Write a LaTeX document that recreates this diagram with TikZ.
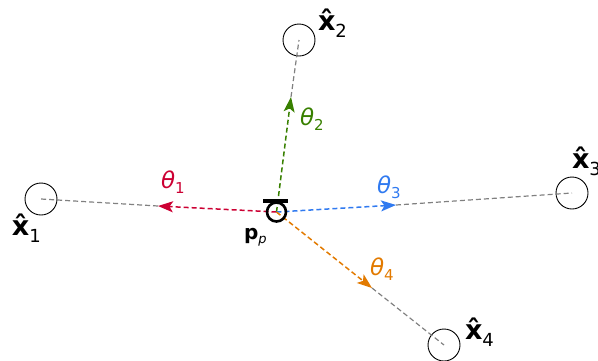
\documentclass[tikz,border=0pt]{standalone}
\usepackage{fontspec}
\setmainfont{DejaVu Sans}
\usetikzlibrary{arrows.meta}
\definecolor{cred}{RGB}{204,0,51}
\definecolor{cgreen}{RGB}{56,128,0}
\definecolor{cblue}{RGB}{48,122,240}
\definecolor{corange}{RGB}{226,122,0}
\tikzset{
  pt/.style={circle,draw=black,line width=0.9pt,minimum size=32pt,inner sep=0pt},
  guide/.style={draw=gray,dashed,dash pattern=on 5pt off 3pt,line width=1.2pt},
  dir/.style={dashed,dash pattern=on 5pt off 3pt,line width=1.5pt,-{Stealth[length=15pt,width=11pt,inset=3.5pt]}},
  lbl/.style={anchor=base west,inner sep=0pt,outer sep=0pt},
}
\newcommand{\xlab}[1]{{\fontsize{27}{27}\selectfont\bfseries\^{x}}\raisebox{-7pt}{\fontsize{18}{18}\selectfont #1}}
\newcommand{\thlab}[1]{{\fontsize{23}{23}\selectfont\itshape θ}\raisebox{-5pt}{\fontsize{15}{15}\selectfont #1}}
\begin{document}
\begin{tikzpicture}[x=1pt,y=-1pt]
\useasboundingbox (0,0) rectangle (598,360);
% target points
\node[pt] (x1) at (41,199) {};
\node[pt] (x2) at (299,40) {};
\node[pt] (x3) at (572,193) {};
\node[pt] (x4) at (444,345) {};
% centre
\coordinate (p) at (276.5,212);
\coordinate (t1) at (158,206);
\coordinate (t2) at (291,97);
\coordinate (t3) at (396,205);
\coordinate (t4) at (372,288);
% guides
\draw[guide] (t1) -- (x1.center);
\draw[guide] (t2) -- (x2.center);
\draw[guide] (t3) -- (x3.center);
\draw[guide] (t4) -- (x4.center);
% directions
\draw[dir,cred] (p) -- (t1);
\draw[dir,cgreen] (p) -- (t2);
\draw[dir,cblue] (p) -- (t3);
\draw[dir,corange] (p) -- (t4);
% camera symbol
\node[circle,draw=black,line width=2.6pt,minimum size=19pt,inner sep=0pt] (pc) at (p) {};
\coordinate (bl) at (263,201);
\coordinate (br) at (288,201);
\draw[line width=4pt] (bl) -- (br);
% labels
\node[lbl] (l1) at (12,235) {\xlab{1}};
\node[lbl] (l2) at (318,30) {\xlab{2}};
\node[lbl] (l3) at (572,168) {\xlab{3}};
\node[lbl] (l4) at (465,339) {\xlab{4}};
\node[lbl,text=cred] (th1) at (161,188) {\thlab{1}};
\node[lbl,text=cgreen] (th2) at (300,125) {\thlab{2}};
\node[lbl,text=cblue] (th3) at (377,193) {\thlab{3}};
\node[lbl,text=corange] (th4) at (370,275) {\thlab{4}};
\node[lbl] (pp) at (244,239) {{\fontsize{20}{20}\selectfont\bfseries p}\raisebox{-4pt}{\fontsize{13}{13}\selectfont\itshape p}};
\end{tikzpicture}
\end{document}
